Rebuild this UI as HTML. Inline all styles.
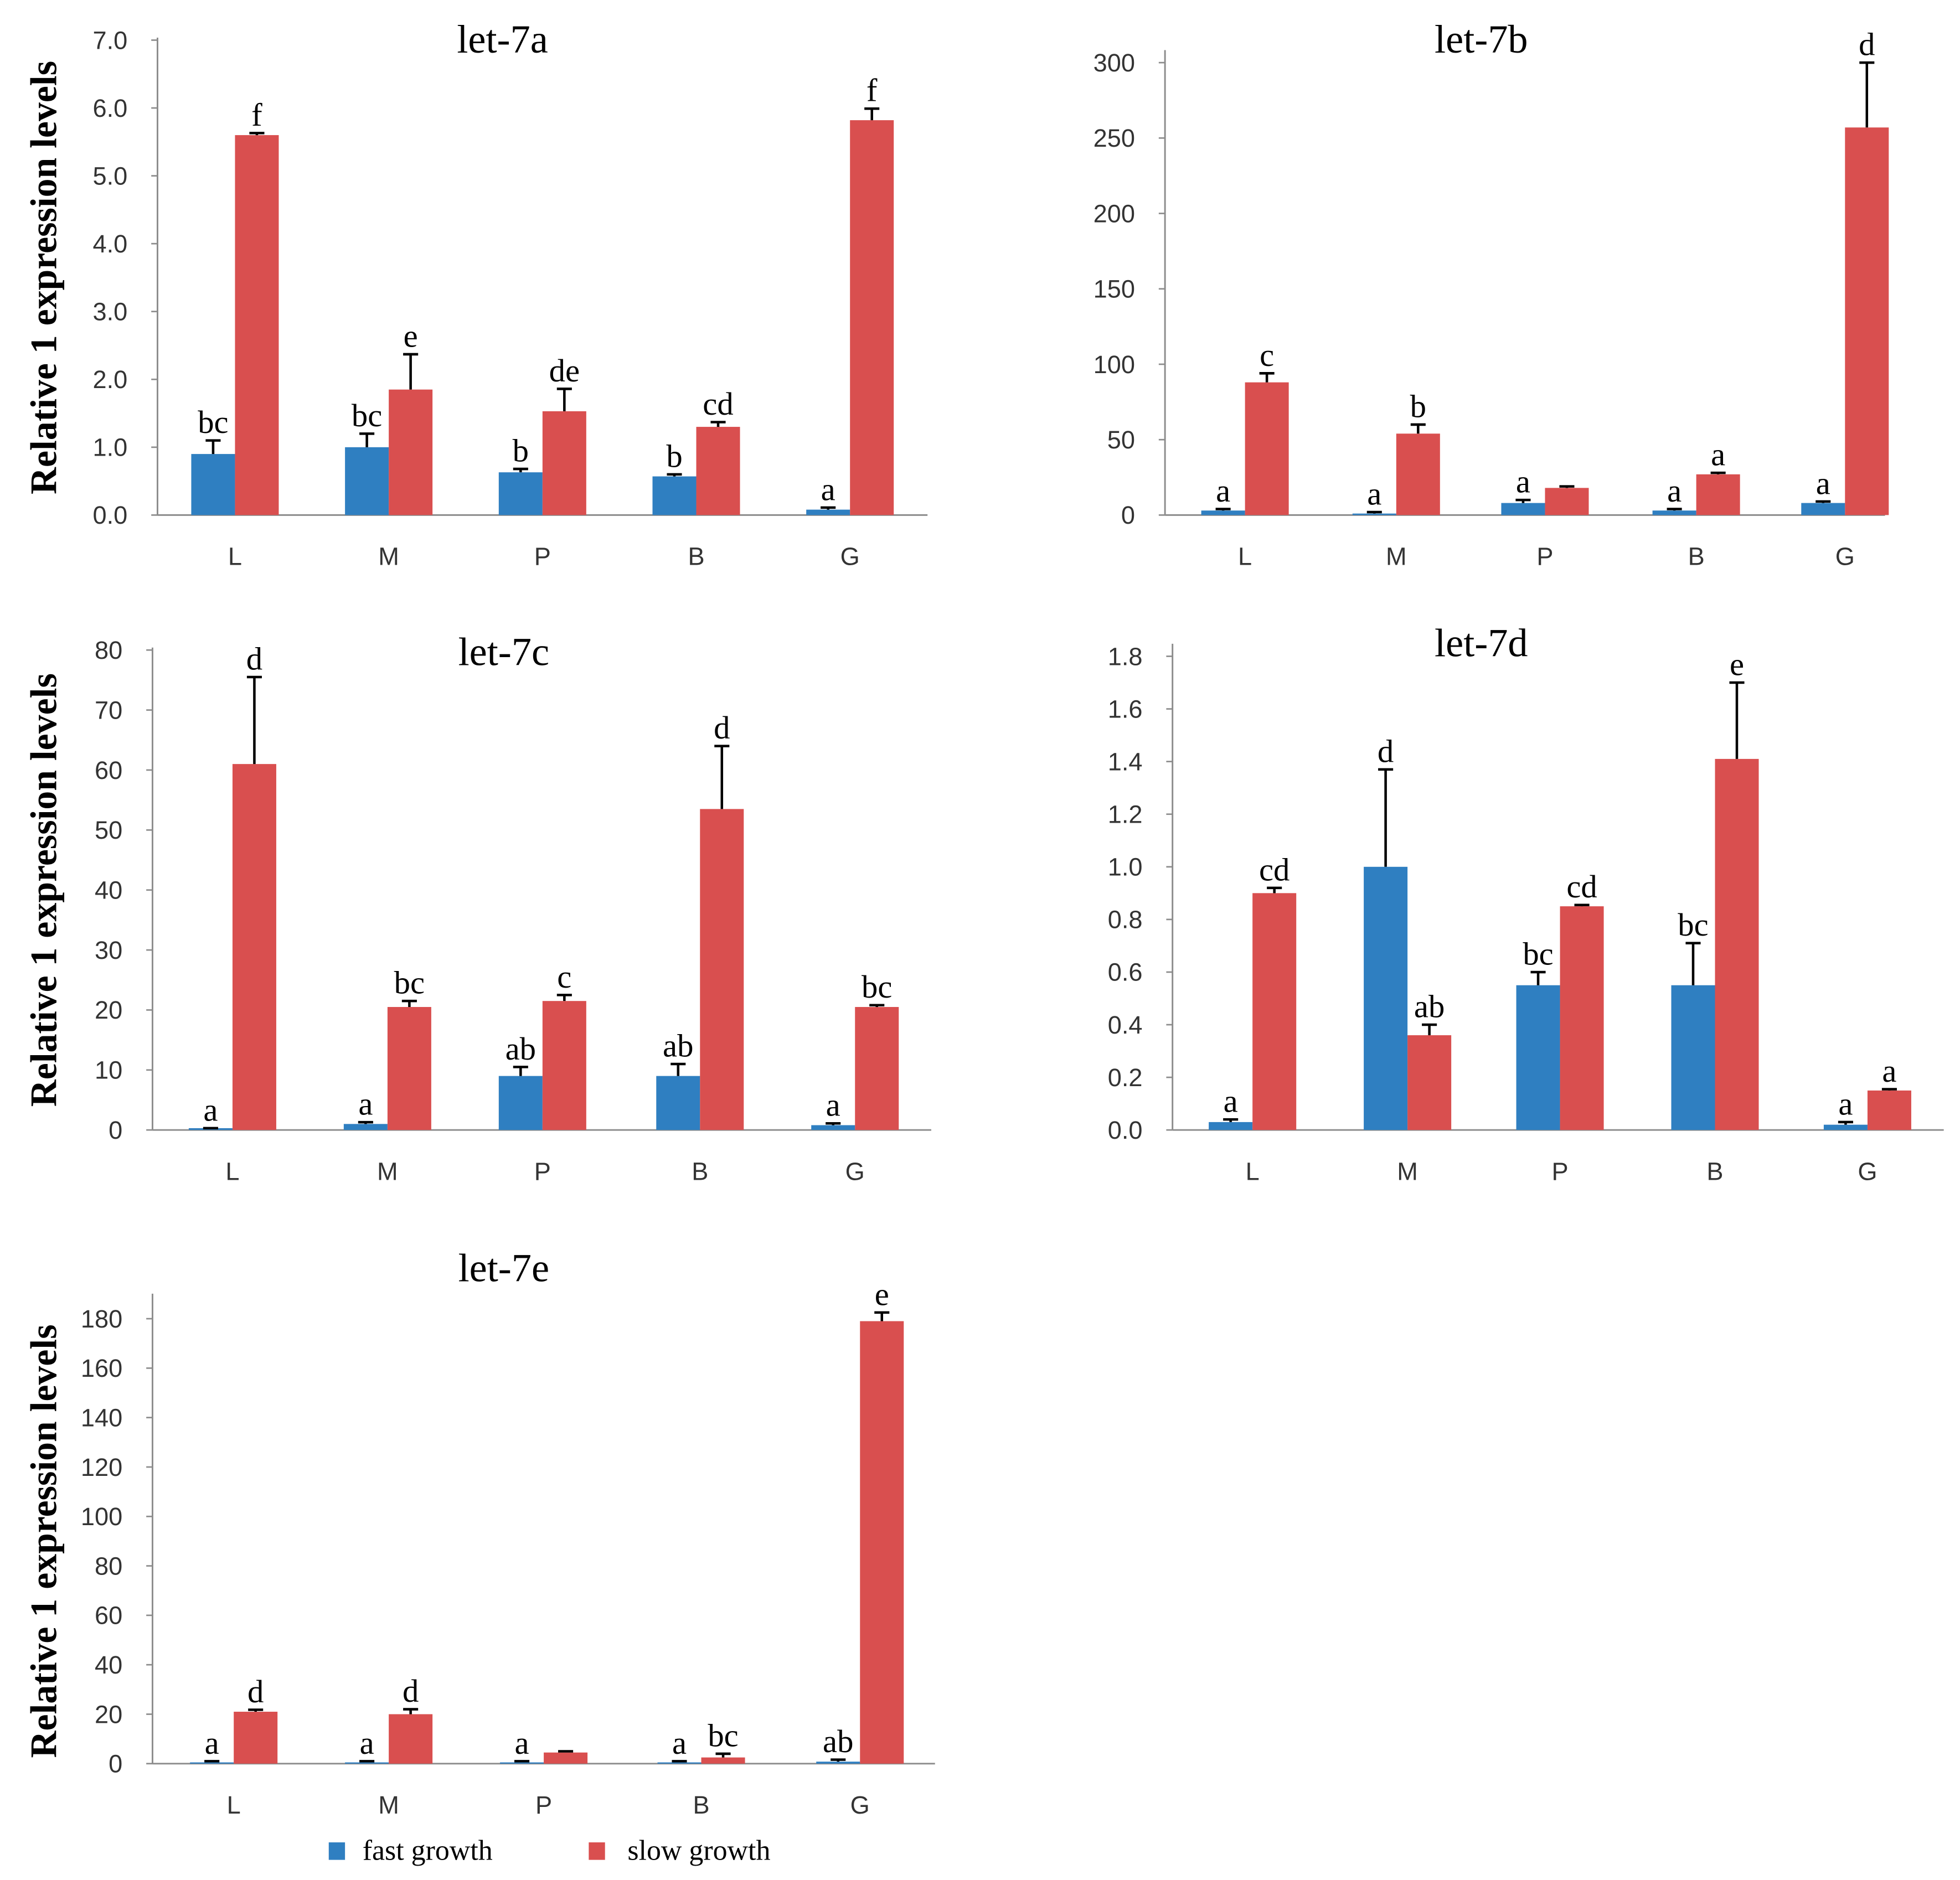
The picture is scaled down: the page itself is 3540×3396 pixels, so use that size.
<!DOCTYPE html>
<html><head><meta charset="utf-8"><style>
html,body{margin:0;padding:0;background:#fff}
svg{display:block}
</style></head><body>
<svg id="chart" xmlns="http://www.w3.org/2000/svg" width="3540" height="3396" viewBox="0 0 1568 1504">
<rect width="1568" height="1504" fill="#fff"/>
</svg>
<script>
const categories = ["L","M","P","B","G"];
// let-7a
const aFast = [0.9, 1.0, 0.63, 0.57, 0.08];
const aFastErr = [0.2, 0.2, 0.05, 0.03, 0.03];
const aSlow = [5.6, 1.85, 1.53, 1.3, 5.82];
const aSlowErr = [0.03, 0.52, 0.33, 0.07, 0.17];
const aFastLetters = ["bc","bc","b","b","a"];
const aSlowLetters = ["f","e","de","cd","f"];
const aTicks = ["0.0","1.0","2.0","3.0","4.0","5.0","6.0","7.0"];
// let-7b
const bFast = [3, 1, 8, 3, 8];
const bFastErr = [1, 1, 2, 1, 1];
const bSlow = [88, 54, 18, 27, 257];
const bSlowErr = [6, 6, 1, 1, 43];
const bFastLetters = ["a","a","a","a","a"];
const bSlowLetters = ["c","b","","a","d"];
const bTicks = ["0","50","100","150","200","250","300"];
// let-7c
const cFast = [0.3, 1, 9, 9, 0.8];
const cFastErr = [0, 0.3, 1.5, 2, 0.3];
const cSlow = [61, 20.5, 21.5, 53.5, 20.5];
const cSlowErr = [14.5, 1, 1, 10.5, 0.3];
const cFastLetters = ["a","a","ab","ab","a"];
const cSlowLetters = ["d","bc","c","d","bc"];
const cTicks = ["0","10","20","30","40","50","60","70","80"];
// let-7d
const dFast = [0.03, 1.0, 0.55, 0.55, 0.02];
const dFastErr = [0.01, 0.37, 0.05, 0.16, 0.01];
const dSlow = [0.9, 0.36, 0.85, 1.41, 0.15];
const dSlowErr = [0.02, 0.04, 0.005, 0.29, 0.005];
const dFastLetters = ["a","d","bc","bc","a"];
const dSlowLetters = ["cd","ab","cd","e","a"];
const dTicks = ["0.0","0.2","0.4","0.6","0.8","1.0","1.2","1.4","1.6","1.8"];
// let-7e
const eFast = [0.5, 0.5, 0.5, 0.5, 0.8];
const eFastErr = [0.5, 0.5, 0.5, 0.5, 0.8];
const eSlow = [21, 20, 4.5, 2.5, 179];
const eSlowErr = [0.8, 2, 0.5, 1.5, 3.5];
const eFastLetters = ["a","a","a","a","ab"];
const eSlowLetters = ["d","d","","bc","e"];
const eTicks = ["0","20","40","60","80","100","120","140","160","180"];

const NS = "http://www.w3.org/2000/svg";
const svg = document.getElementById("chart");
function mk(tag, attrs, parent, text){
  const e = document.createElementNS(NS, tag);
  for (const k in attrs) e.setAttribute(k, attrs[k]);
  if (text !== undefined) e.textContent = text;
  parent.appendChild(e);
  return e;
}
const BLUE = "#2f7fc1", RED = "#d94f4f";

function panel(cfg){
  const g = mk("g", {}, svg);
  
  
  const tickVals = cfg.ticks.map(Number);
  const vmax = tickVals[tickVals.length-1];
  const y = v => cfg.y0 - (v / vmax) * (cfg.y0 - cfg.yTop);
  const x = i => cfg.cx[i];
  const ya = mk("line", {x1:cfg.ax, y1:cfg.axTop, x2:cfg.ax, y2:cfg.y0, stroke:"#8c8c8c", "stroke-width":1.3}, g);
  
  
  const xa = mk("line", {x1:cfg.ax, y1:cfg.y0, x2:cfg.axEnd, y2:cfg.y0, stroke:"#8c8c8c", "stroke-width":1.3}, g);
  
  
  cfg.ticks.forEach((t, k) => {
    const ty = y(tickVals[k]);
    mk("line", {x1:cfg.ax-5, y1:ty, x2:cfg.ax, y2:ty, stroke:"#8c8c8c", "stroke-width":1.2}, g);
    const tl = mk("text", {x:cfg.ax-24, y:ty+7, "text-anchor":"end", "font-family":"Liberation Sans, sans-serif", "font-size":20, fill:"#333"}, g, t);
    
    
  });
  categories.forEach((c, i) => {
    const cl = mk("text", {x:x(i), y:cfg.y0+40, "text-anchor":"middle", "font-family":"Liberation Sans, sans-serif", "font-size":20, fill:"#333"}, g, c);
    
    
  });
  const bw = 35;
  const series = [
    {vals:cfg.fast, err:cfg.fastErr, let:cfg.fastLet, color:BLUE, off:-bw, name:"fast"},
    {vals:cfg.slow, err:cfg.slowErr, let:cfg.slowLet, color:RED, off:0, name:"slow"}
  ];
  series.forEach(s => {
    s.vals.forEach((v, i) => {
      const bx = x(i) + s.off;
      const top = y(v);
      const r = mk("rect", {x:bx, y:top, width:bw, height:Math.max(cfg.y0 - top, 0), fill:s.color}, g);
      
      
      const ex = bx + bw/2;
      const et = y(v + s.err[i]);
      const eb = mk("path", {d:`M${ex},${top} V${et} M${ex-6},${et} H${ex+6}`, stroke:"#000", "stroke-width":2, fill:"none"}, g);
      
      
      if (s.let[i]) {
        const lt = mk("text", {x:ex, y:et-6, "text-anchor":"middle", "font-family":"Liberation Serif, serif", "font-size":26, fill:"#000"}, g, s.let[i]);
        
        
      }
    });
  });
  const ti = mk("text", {x:cfg.tx, y:cfg.ty, "text-anchor":"middle", "font-family":"Liberation Serif, serif", "font-size":32, fill:"#000"}, g, cfg.title);
  
  
  if (cfg.ytitle) {
    const yt = mk("text", {x:0, y:0, transform:`translate(45,${(cfg.yTop+cfg.y0)/2}) rotate(-90)`, "text-anchor":"middle", "font-family":"Liberation Serif, serif", "font-size":30, fill:"#000", "font-weight":"bold"}, g, "Relative 1 expression levels");
    
    
  }
}

panel({name:"panel-let-7a", title:"let-7a", tx:402, ty:42, ax:126, axTop:30, axEnd:742, y0:412, yTop:32,
  cx:[188,311,434,557,680], ticks:aTicks, fast:aFast, fastErr:aFastErr, slow:aSlow, slowErr:aSlowErr,
  fastLet:aFastLetters, slowLet:aSlowLetters, ytitle:true});
panel({name:"panel-let-7b", title:"let-7b", tx:1185, ty:42, ax:932, axTop:40, axEnd:1508, y0:412, yTop:50,
  cx:[996,1117,1236,1357,1476], ticks:bTicks, fast:bFast, fastErr:bFastErr, slow:bSlow, slowErr:bSlowErr,
  fastLet:bFastLetters, slowLet:bSlowLetters, ytitle:false});
panel({name:"panel-let-7c", title:"let-7c", tx:403, ty:532, ax:122, axTop:518, axEnd:745, y0:904, yTop:520,
  cx:[186,310,434,560,684], ticks:cTicks, fast:cFast, fastErr:cFastErr, slow:cSlow, slowErr:cSlowErr,
  fastLet:cFastLetters, slowLet:cSlowLetters, ytitle:true});
panel({name:"panel-let-7d", title:"let-7d", tx:1185, ty:525, ax:938, axTop:515, axEnd:1555, y0:904, yTop:525,
  cx:[1002,1126,1248,1372,1494], ticks:dTicks, fast:dFast, fastErr:dFastErr, slow:dSlow, slowErr:dSlowErr,
  fastLet:dFastLetters, slowLet:dSlowLetters, ytitle:false});
panel({name:"panel-let-7e", title:"let-7e", tx:403, ty:1025, ax:122, axTop:1035, axEnd:748, y0:1411, yTop:1055,
  cx:[187,311,435,561,688], ticks:eTicks, fast:eFast, fastErr:eFastErr, slow:eSlow, slowErr:eSlowErr,
  fastLet:eFastLetters, slowLet:eSlowLetters, ytitle:true});

const lg = mk("g", {}, svg);


const l1 = mk("rect", {x:263, y:1474, width:13, height:14, fill:BLUE}, lg);


const t1 = mk("text", {x:290, y:1488, "font-family":"Liberation Serif, serif", "font-size":23, fill:"#000"}, lg, "fast growth");


const l2 = mk("rect", {x:471, y:1474, width:13, height:14, fill:RED}, lg);


const t2 = mk("text", {x:502, y:1488, "font-family":"Liberation Serif, serif", "font-size":23, fill:"#000"}, lg, "slow growth");


</script>
</body></html>
